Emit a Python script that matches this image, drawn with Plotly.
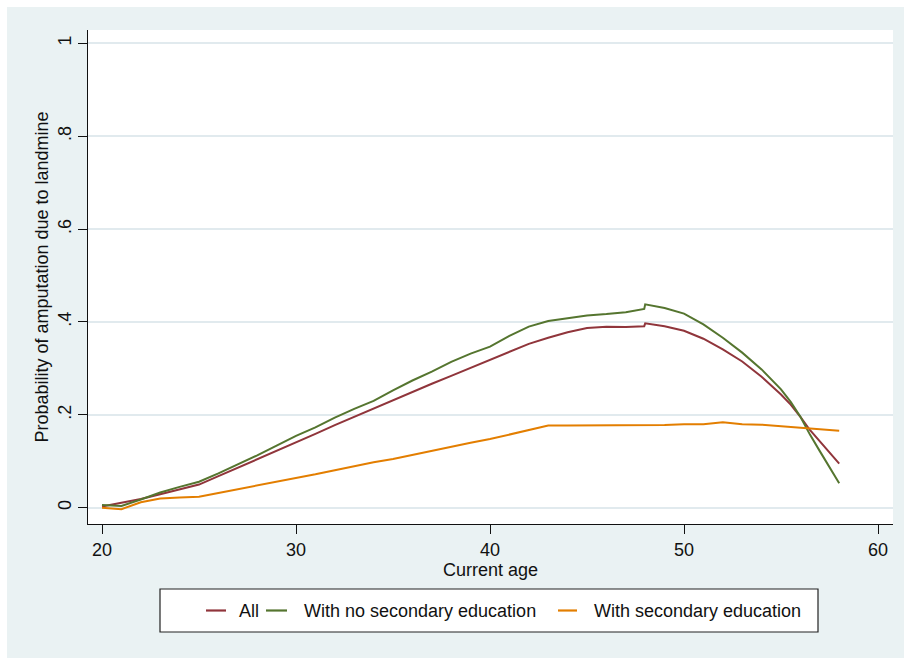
import plotly.graph_objects as go

ages = [20, 21, 22, 23, 24, 25, 26, 27, 28, 29, 30, 31, 32, 33, 34, 35, 36, 37, 38, 39,
        40, 41, 42, 43, 44, 45, 46, 47, 47.95, 48, 49, 50, 51, 52, 53, 54, 55, 55.5, 56,
        56.5, 57, 57.5, 58]

p_all = [0.003, 0.011, 0.019, 0.029, 0.039, 0.050, 0.068, 0.086, 0.104, 0.122, 0.141,
         0.159, 0.178, 0.196, 0.213, 0.232, 0.250, 0.267, 0.284, 0.301, 0.318, 0.336,
         0.353, 0.366, 0.378, 0.387, 0.390, 0.389, 0.391, 0.397, 0.391, 0.381, 0.364,
         0.341, 0.315, 0.282, 0.244, 0.222, 0.196, 0.167, 0.143, 0.119, 0.095]

p_nosec = [0.006, 0.004, 0.018, 0.033, 0.045, 0.056, 0.074, 0.093, 0.113, 0.134, 0.155,
           0.173, 0.194, 0.213, 0.230, 0.253, 0.274, 0.293, 0.314, 0.332, 0.347, 0.370,
           0.390, 0.402, 0.408, 0.414, 0.417, 0.421, 0.428, 0.438, 0.430, 0.418, 0.395,
           0.366, 0.334, 0.298, 0.255, 0.228, 0.196, 0.157, 0.122, 0.088, 0.053]

p_sec = [0.000, -0.003, 0.012, 0.020, 0.022, 0.024, 0.032, 0.040, 0.048, 0.055, 0.063,
         0.072, 0.081, 0.090, 0.098, 0.105, 0.114, 0.123, 0.131, 0.140, 0.148, 0.158,
         0.167, 0.177, 0.177, 0.177, 0.177, 0.177, 0.177, 0.177, 0.178, 0.180, 0.180,
         0.184, 0.180, 0.179, 0.176, 0.174, 0.173, 0.171, 0.170, 0.168, 0.166]

series_names = ["All", "With no secondary education", "With secondary education"]
series_colors = ["#90353B", "#55752F", "#E37E00"]

x_ticks = [20, 30, 40, 50, 60]
y_ticks = [0, 0.2, 0.4, 0.6, 0.8, 1]
y_ticktext = ["0", ".2", ".4", ".6", ".8", "1"]

x_title = "Current age"
y_title = "Probability of amputation due to landmine"

W, H = 904, 658
L, R, T, B = 88, 893, 30, 524
FONT = "Arial, Liberation Sans, sans-serif"
TXT = "#111111"


def fx(px):
    return (px - L) / (R - L)


def fy(py):
    return (B - py) / (B - T)


fig = go.Figure()
for name, vals, col in zip(series_names, [p_all, p_nosec, p_sec], series_colors):
    fig.add_trace(go.Scatter(x=ages, y=vals, mode="lines", name=name,
                             line=dict(color=col, width=2), showlegend=False,
                             hoverinfo="skip"))

shapes = [
    dict(type="rect", xref="paper", yref="paper", x0=fx(7), x1=fx(904), y0=fy(658), y1=fy(7),
         fillcolor="#EAF2F3", line=dict(width=0), layer="below"),
    dict(type="rect", xref="paper", yref="paper", x0=0, x1=1, y0=0, y1=1,
         fillcolor="white", line=dict(width=0), layer="below"),
    dict(type="rect", xref="paper", yref="paper", x0=fx(160), x1=fx(818), y0=fy(632), y1=fy(589),
         fillcolor="white", line=dict(color="#222222", width=1.2), layer="below"),
]
annotations = []
key_x = [(206, 226, 237), (266, 287, 302), (558, 577, 592)]
ly = 610.5
for (k0, k1, tx), name, col in zip(key_x, series_names, series_colors):
    shapes.append(dict(type="line", xref="paper", yref="paper", x0=fx(k0), x1=fx(k1),
                       y0=fy(ly), y1=fy(ly), line=dict(color=col, width=2.2)))
    annotations.append(dict(text=name, xref="paper", yref="paper", x=fx(tx), y=fy(ly),
                            xanchor="left", yanchor="middle", showarrow=False,
                            font=dict(family=FONT, size=18, color=TXT)))

fig.update_layout(
    width=W, height=H,
    margin=dict(l=L, r=W - R, t=T, b=H - B, pad=0, autoexpand=False),
    paper_bgcolor="white",
    plot_bgcolor="white",
    font=dict(family=FONT, size=18, color=TXT),
    shapes=shapes,
    annotations=annotations,
    showlegend=False,
    xaxis=dict(
        range=[19.278, 60.773], tickvals=x_ticks, ticks="outside", ticklen=9,
        tickcolor="#111111", tickwidth=1, showline=True, linecolor="#111111", linewidth=1,
        showgrid=False, zeroline=False, tickfont=dict(size=18), automargin=False,
        title=dict(text=x_title, font=dict(size=18), standoff=0),
    ),
    yaxis=dict(
        range=[-0.0349, 1.0286], tickvals=y_ticks, ticktext=y_ticktext, tickangle=-90,
        ticks="outside", ticklen=9, tickcolor="#111111", tickwidth=1, showline=True,
        linecolor="#111111", linewidth=1, showgrid=True, gridcolor="#E1EAEE", gridwidth=1.5,
        zeroline=False, tickfont=dict(size=18), automargin=False,
        title=dict(text=y_title, font=dict(size=18), standoff=1),
    ),
)

fig.write_html(
    "out.html",
    config={"displayModeBar": False},
    post_script="document.body.style.margin='0';document.body.style.overflow='hidden';",
)
